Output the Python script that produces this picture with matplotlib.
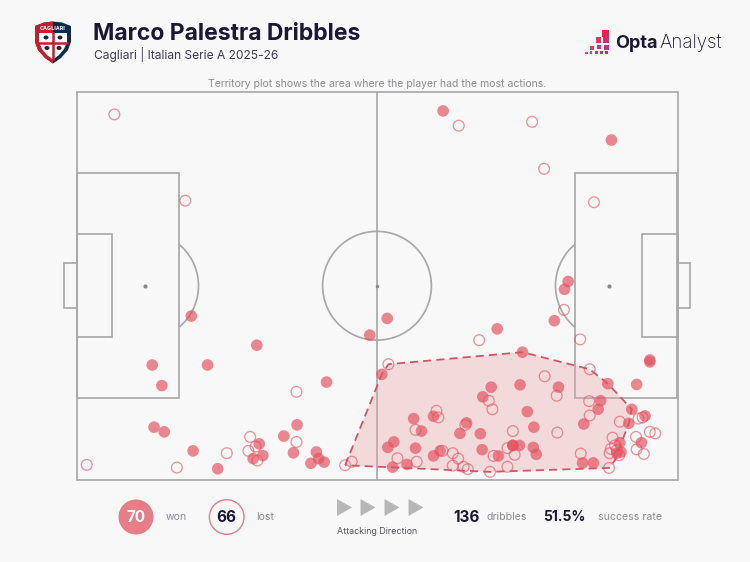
import matplotlib
matplotlib.use("Agg")
import matplotlib.pyplot as plt
from matplotlib.patches import Rectangle, Ellipse, Circle, Polygon

# ---------- data (Opta pitch units, 0-100 both ways) ----------
won_x = [12.6,21.8,30.0,41.6,14.2,12.9,14.6,19.4,23.5,30.4,31.0,29.4,34.5,36.7,36.1,39.9,40.3,41.2,39.0,
         19.1,48.8,51.7,61.0,89.0,81.8,81.2,79.5,70.0,50.8,69.0,67.6,56.1,59.4,57.4,64.9,63.8,67.2,52.8,
         51.8,56.4,59.4,60.5,67.5,70.2,52.6,55.0,72.6,72.6,73.7,74.2,73.8,80.2,75.0,76.1,76.0,76.5,84.4,
         86.8,87.2,88.4,93.2,95.4,95.4,92.4,91.9,94.6,94.0,90.4,90.6,89.9,84.2,86.0]
won_y = [29.6,29.6,34.7,25.2,24.3,13.6,12.4,7.5,2.9,9.3,6.3,5.5,11.3,14.2,7.0,7.2,5.5,4.6,4.3,
         42.2,37.3,41.6,95.0,87.5,51.1,49.1,41.0,38.9,27.2,23.9,21.4,15.8,16.4,12.6,14.7,12.0,11.9,9.8,
         8.4,8.2,6.2,7.5,7.8,6.2,3.3,4.0,8.9,8.9,8.9,32.9,24.5,23.9,17.6,13.6,8.4,6.6,14.4,
         18.2,20.4,24.8,24.6,30.9,30.4,18.2,14.6,16.5,9.6,9.6,7.2,6.9,4.4,4.4]
lost_x = [1.7,16.7,25.0,28.9,28.6,29.8,30.1,36.6,36.6,44.7,6.3,18.1,63.6,75.8,77.8,86.1,81.1,83.8,67.0,51.9,
          45.8,59.9,60.2,56.4,53.4,56.6,68.6,69.2,64.7,72.6,60.9,62.6,63.5,62.6,64.4,65.1,68.8,71.7,71.7,72.9,
          77.9,85.4,79.9,85.3,85.4,90.4,93.5,94.2,95.4,96.3,93.1,93.2,94.4,89.2,89.6,88.7,83.9,80.0,88.6,90.3,
          69.4,89.9,88.9]
lost_y = [3.9,3.2,6.9,11.1,7.5,8.6,5.0,22.7,9.8,3.8,94.1,71.9,91.2,92.2,80.1,71.5,43.8,36.2,36.0,29.8,
          4.7,17.8,16.1,12.9,5.6,4.7,20.4,18.2,14.2,12.6,7.5,6.9,5.5,3.7,3.4,2.8,2.1,3.4,8.2,6.5,
          26.7,28.5,21.7,20.3,16.6,15.0,15.8,16.1,12.4,12.0,11.1,7.9,6.7,10.9,8.9,6.9,6.8,12.2,3.1,6.4,
          6.2,7.7,8.0]
territory_x = [44.7,50.8,51.9,74.2,85.4,88.4,92.4,91.9,89.6,88.6,68.8]
territory_y = [3.8,27.2,29.8,32.9,28.5,24.8,18.2,14.6,5.1,3.1,2.1]

title = "Marco Palestra Dribbles"
subtitle = "Cagliari | Italian Serie A 2025-26"
note = "Territory plot shows the area where the player had the most actions."
won_count, lost_count, total, rate = "70", "66", "136", "51.5%"

BG = "#f8f8f8"; INK = "#1c1733"; LINE = "#a9a9a9"; RED = "#e4505f"; MUTED = "#8b8b93"
FONT = "Inter"
plt.rcParams["font.family"] = [FONT, "DejaVu Sans"]

fig = plt.figure(figsize=(7.5, 5.62), dpi=100, facecolor=BG)

# overlay for header, footer and logos, in figure pixels
ov = fig.add_axes([0, 0, 1, 1], zorder=0)
ov.set_xlim(0, 750); ov.set_ylim(562, 0); ov.axis("off")

# ---------- pitch ----------
ax = fig.add_axes([76.5/750, (562-480)/562, 601/750, 388.5/562], zorder=1)
ax.set_xlim(0, 100); ax.set_ylim(0, 100); ax.axis("off"); ax.patch.set_alpha(0)
lk = dict(fill=False, ec=LINE, lw=1.25, clip_on=False, zorder=1)
ax.add_patch(Rectangle((0, 0), 100, 100, **lk))
ax.plot([50, 50], [0, 100], color=LINE, lw=1.25, zorder=1)
ax.add_patch(Ellipse((50, 50), 18.1, 28.0, **lk))
for x0, w, sx in [(0, 17.0, 11.4), (83.0, 17.0, 88.6)]:
    ax.add_patch(Rectangle((x0, 21.1), w, 57.8, **lk))
    ax.plot([sx], [50], "o", ms=2, color="#8a8a8a", zorder=1)
ax.add_patch(Rectangle((0, 36.9), 5.9, 26.4, **lk))
ax.add_patch(Rectangle((94.1, 36.9), 5.9, 26.4, **lk))
ax.add_patch(Rectangle((-2, 44.2), 2, 11.6, **lk))
ax.add_patch(Rectangle((100, 44.2), 2, 11.6, **lk))
ax.plot([50], [50], "o", ms=1.5, color="#8a8a8a", zorder=1)
for sx, cx0, cw in [(11.4, 17.0, 30), (88.6, 53.0, 30)]:
    arc = Ellipse((sx, 50), 17.8, 27.6, fill=False, ec=LINE, lw=1.25, zorder=1)
    ax.add_patch(arc)
    arc.set_clip_path(Rectangle((cx0, 0), cw, 100, transform=ax.transData))

pts = list(zip(territory_x, territory_y))
ax.add_patch(Polygon(pts, closed=True, fc="#e9a5aa", alpha=0.36, ec="none", zorder=2))
ax.add_patch(Polygon(pts, closed=True, fill=False, ec="#d25564", lw=1.3, ls=(0, (4.5, 2.8)), zorder=3))
ax.scatter(lost_x, lost_y, s=60, fc="none", ec=RED, lw=0.95, alpha=0.6, zorder=4, clip_on=False)
ax.scatter(won_x, won_y, s=70, fc=RED, ec="none", alpha=0.68, zorder=5, clip_on=False)

# ---------- header ----------
ov.text(93, 33.5, title, fontsize=16.5, fontweight="bold", color=INK, va="center", ha="left")
ov.text(94, 54, subtitle, fontsize=8.65, color="#3f3c4c", va="center", ha="left")
ov.text(377.5, 84, note, fontsize=7.55, color=MUTED, va="center", ha="center")

# crest
shield = [(35,26),(44,22.5),(53,21.5),(62,22.5),(71,26),(71,42),(68,50),(61,58),(53,63.5),(45,58),(38,50),(35,42)]
ov.add_patch(Polygon(shield, closed=True, fc="#10294f", ec="none"))
ov.add_patch(Polygon([(35,26),(44,22.5),(53,21.5),(53,63.5),(45,58),(38,50),(35,42)], closed=True, fc="#c3202f", ec="none"))
ov.add_patch(Polygon([(39,33),(67,33),(67,42),(64,49),(59,55),(53,59.5),(47,55),(42,49),(39,42)], closed=True, fc="white", ec="none"))
ov.plot([53, 53], [33, 59], color="#c3202f", lw=1.8)
ov.plot([39, 67], [43, 43], color="#c3202f", lw=1.8)
for cx, cy in [(46,37.5),(60,37.5),(47,48),(59,48)]:
    ov.add_patch(Ellipse((cx, cy), 5, 4, fc="#25252b", ec="none"))
ov.text(53, 28, "CAGLIARI", fontsize=3.9, color="white", ha="center", va="center", fontweight="bold")

# Opta logo
for cx, cy, s, c in [(605.7,33.3,7,"#e1264e"),(605.7,40.3,6,"#d42a6a"),(598.5,39.8,5.5,"#e0385c"),
                     (606,47,5,"#bd2f96"),(599,47,4.5,"#cc3488"),(592,47.5,4,"#e03c60"),
                     (606.7,52.5,3,"#a430ac"),(601.7,52.5,3,"#b232a4"),(596.7,52.5,3,"#c4348e"),
                     (591,52.5,2.8,"#dc3c66"),(586.7,53,2.5,"#e2405c")]:
    ov.add_patch(Rectangle((cx-s/2, cy-s/2), s, s, fc=c, ec="none"))
ov.text(615, 43, "Opta", fontsize=13, fontweight="bold", color=INK, ha="left", va="center")
ov.text(659, 43, "Analyst", fontsize=13.5, fontweight="light", color=INK, ha="left", va="center")

# ---------- footer ----------
ov.add_patch(Circle((136, 517), 17.5, fc="#e77d87", ec="none"))
ov.text(136, 517, won_count, fontsize=11, fontweight="bold", color="white", ha="center", va="center")
ov.text(176, 517.5, "won", fontsize=7.6, color=MUTED, ha="center", va="center")
ov.add_patch(Circle((226.7, 517), 17.3, fc="none", ec="#e77d87", lw=1))
ov.text(226.7, 517, lost_count, fontsize=11, fontweight="bold", color=INK, ha="center", va="center")
ov.text(265, 517.5, "lost", fontsize=7.6, color=MUTED, ha="center", va="center")
for tx in (337, 360.5, 384.5, 408.5):
    ov.add_patch(Polygon([(tx, 499), (tx+15, 507.5), (tx, 516)], closed=True, fc="#b7b7b7", ec="none"))
ov.text(377, 531, "Attacking Direction", fontsize=6.4, color="#55535e", ha="center", va="center")
ov.text(453, 517, total, fontsize=11, fontweight="bold", color=INK, ha="left", va="center")
ov.text(486.5, 517.5, "dribbles", fontsize=7.6, color=MUTED, ha="left", va="center")
ov.text(543, 517, rate, fontsize=10, fontweight="bold", color=INK, ha="left", va="center")
ov.text(598, 517.5, "success rate", fontsize=7.6, color=MUTED, ha="left", va="center")

fig.savefig("out.png", dpi=100, facecolor=BG)
